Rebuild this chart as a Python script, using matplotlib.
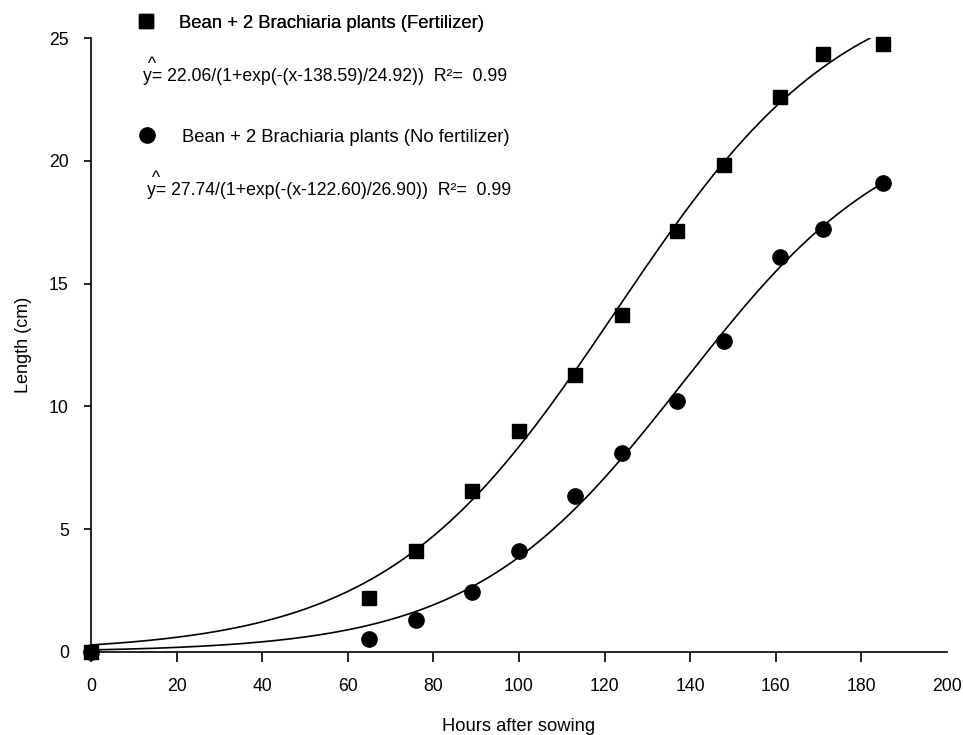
import numpy as np
import matplotlib
matplotlib.use("Agg")
import matplotlib.pyplot as plt
from matplotlib.lines import Line2D

plt.rcParams['font.family'] = ['Liberation Sans', 'DejaVu Sans']

# Observed data
hours = [0, 65, 76, 89, 100, 113, 124, 137, 148, 161, 171, 185]
fert_len = [0.0, 2.19, 4.11, 6.56, 9.0, 11.29, 13.73, 17.15, 19.83, 22.6, 24.35, 24.76]
nofert_len = [0.0, 0.53, 1.32, 2.43, 4.11, 6.34, 8.1, 10.2, 12.66, 16.07, 17.22, 19.1]

# Fitted logistic parameters (a, x0, b) as printed
eq1_params = [22.06, 138.59, 24.92]
eq2_params = [27.74, 122.60, 26.90]
r2 = [0.99, 0.99]

label_fert = "Bean + 2 Brachiaria plants (Fertilizer)"
label_nofert = "Bean + 2 Brachiaria plants (No fertilizer)"
xticks = [0, 20, 40, 60, 80, 100, 120, 140, 160, 180, 200]
yticks = [0, 5, 10, 15, 20, 25]


def logistic(x, p):
    a, x0, b = p
    return a / (1 + np.exp(-(x - x0) / b))


W, H = 963, 735
fig = plt.figure(figsize=(W / 100, H / 100), dpi=100)
ax = fig.add_axes([91 / W, (H - 652) / H, (947 - 91) / W, (652 - 38) / H])

# fitted curves
xs1 = np.linspace(0, 182, 300)
xs2 = np.linspace(0, 185, 300)
ax.plot(xs1, logistic(xs1, eq2_params), color='black', lw=1.2, zorder=2)
ax.plot(xs2, logistic(xs2, eq1_params), color='black', lw=1.2, zorder=2)

ax.plot(hours, fert_len, 's', color='black', ms=10, clip_on=False, zorder=3)
ax.plot(hours, nofert_len, 'o', color='black', ms=11, clip_on=False, zorder=3)

ax.set_xlim(0, 200)
ax.set_ylim(0, 25)
ax.set_xticks(xticks)
ax.set_yticks(yticks)
ax.spines['top'].set_visible(False)
ax.spines['right'].set_visible(False)
ax.spines['left'].set_linewidth(1.2)
ax.spines['bottom'].set_linewidth(1.2)
ax.tick_params(axis='x', direction='out', length=7, width=1.2, pad=12, labelsize=12.7)
ax.tick_params(axis='y', direction='out', length=5, width=1.2, pad=11, labelsize=12.7)
ax.xaxis.get_major_ticks()[-1].tick1line.set_visible(False)

ax.set_xlabel("Hours after sowing", fontsize=13.2, labelpad=16)
ax.set_ylabel("Length (cm)", fontsize=13, labelpad=12)

# legends
h1 = Line2D([], [], marker='s', color='black', ls='none', ms=10)
h2 = Line2D([], [], marker='o', color='black', ls='none', ms=11)
leg1 = fig.legend([h1], [label_fert], loc='center left',
                  bbox_to_anchor=(137 / W, 1 - 23 / H), frameon=False,
                  fontsize=13.3, handlelength=1.0, handletextpad=1.3,
                  borderpad=0, borderaxespad=0)
leg2 = fig.legend([h2], [label_nofert], loc='center left',
                  bbox_to_anchor=(138 / W, 1 - 137 / H), frameon=False,
                  fontsize=13.3, handlelength=1.0, handletextpad=1.36,
                  borderpad=0, borderaxespad=0)
fig.add_artist(leg1)

# equations (hat drawn as a first line of the same text)
def eq_text(p, r):
    return (" ^\ny= %.2f/(1+exp(-(x-%.2f)/%.2f))  R²=  %.2f"
            % (p[0], p[1], p[2], r))

for p, r, (x0, yc) in [(eq1_params, r2[0], (143, 75)), (eq2_params, r2[1], (147, 189))]:
    fig.text(x0 / W, 1 - (yc + 10) / H, eq_text(p, r), fontsize=12.7, ha='left',
             va='bottom', linespacing=0.6)

fig.savefig("out.png", dpi=100, facecolor='white')
